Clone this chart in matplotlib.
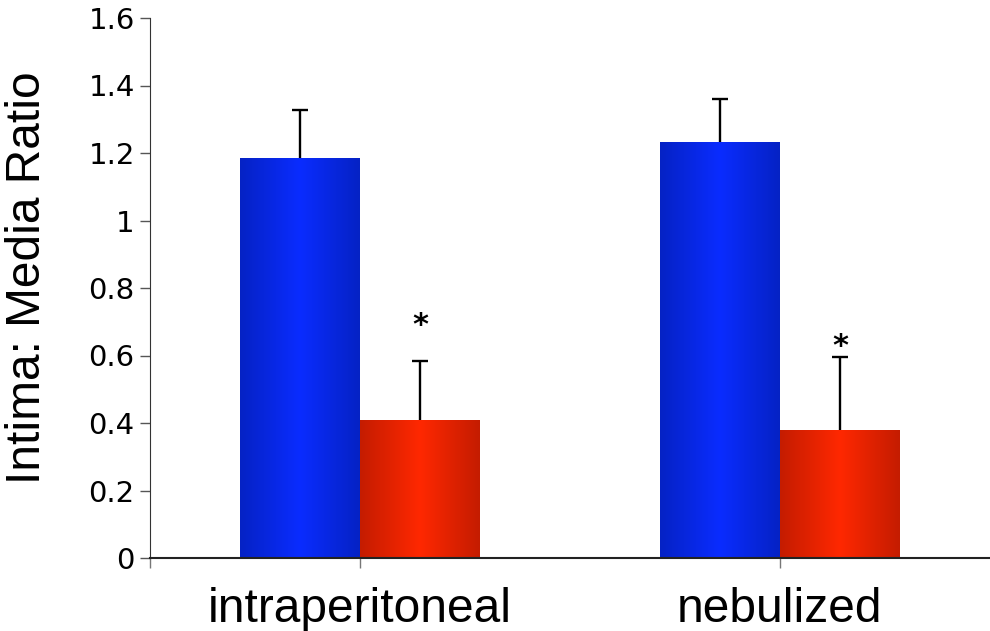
import numpy as np
import matplotlib.pyplot as plt
from matplotlib.colors import LinearSegmentedColormap

categories = ["intraperitoneal", "nebulized"]
control = [1.185, 1.233]
control_err = [0.142, 0.127]
treated = [0.409, 0.379]
treated_err = [0.175, 0.217]
stars = [0.69, 0.628]
yticks = [0, 0.2, 0.4, 0.6, 0.8, 1, 1.2, 1.4, 1.6]

fig = plt.figure(figsize=(9.9, 6.31), dpi=100)
ax = fig.add_axes([150 / 990, 1 - 558 / 631, 1 - 150 / 990, (558 - 18) / 631])

blue_cm = LinearSegmentedColormap.from_list("b", ["#0522c4", "#0a2cff", "#0522c4"])
red_cm = LinearSegmentedColormap.from_list("r", ["#c41c00", "#ff2800", "#c41c00"])
grad = np.linspace(0, 1, 256).reshape(1, -1)

w = 120 / 420
x = np.arange(len(categories))

def gradient_bars(xs, heights, cmap):
    bars = ax.bar(xs, heights, width=w, color="none", edgecolor="none")
    for b in bars:
        im = ax.imshow(grad, cmap=cmap, aspect="auto", interpolation="bilinear",
                       extent=[b.get_x(), b.get_x() + b.get_width(), 0, b.get_height()],
                       zorder=2)
        im.set_clip_path(b)
    return bars

def up_errors(xs, heights, errs):
    _, caps, _ = ax.errorbar(xs, heights, yerr=[np.zeros(len(errs)), errs], fmt="none",
                             ecolor="black", elinewidth=1.7, capsize=6, capthick=1.7,
                             zorder=3)
    caps[0].set_visible(False)

gradient_bars(x - w / 2, control, blue_cm)
gradient_bars(x + w / 2, treated, red_cm)
up_errors(x - w / 2, control, control_err)
up_errors(x + w / 2, treated, treated_err)

for xi, s in zip(x + w / 2, stars):
    ax.text(xi, s, "*", ha="center", va="center", fontsize=22, fontweight="bold")

ax.set_xlim(-0.5, 1.5)
ax.set_ylim(0, 1.6)
ax.set_yticks(yticks)
ax.set_yticklabels([f"{t:g}" for t in yticks], fontsize=21, family="DejaVu Sans")
ax.set_xticks([-0.5, 0, 1])
ax.set_xticklabels(["", categories[0], categories[1]], fontsize=34.5, family="Liberation Sans")
ax.tick_params(axis="x", length=7, width=1, color="#777777", pad=14)
ax.tick_params(axis="y", length=7, width=1, color="#555555", pad=4)
ax.set_ylabel("Intima: Media Ratio", fontsize=34.5, family="Liberation Sans",
              va="center")
ax.yaxis.set_label_coords(-0.146, 0.52)

ax.spines["top"].set_visible(False)
ax.spines["right"].set_visible(False)
ax.spines["left"].set_color("#333333")
ax.spines["bottom"].set_color("#222222")
ax.spines["bottom"].set_linewidth(1.5)

fig.savefig("out.png", dpi=100)
